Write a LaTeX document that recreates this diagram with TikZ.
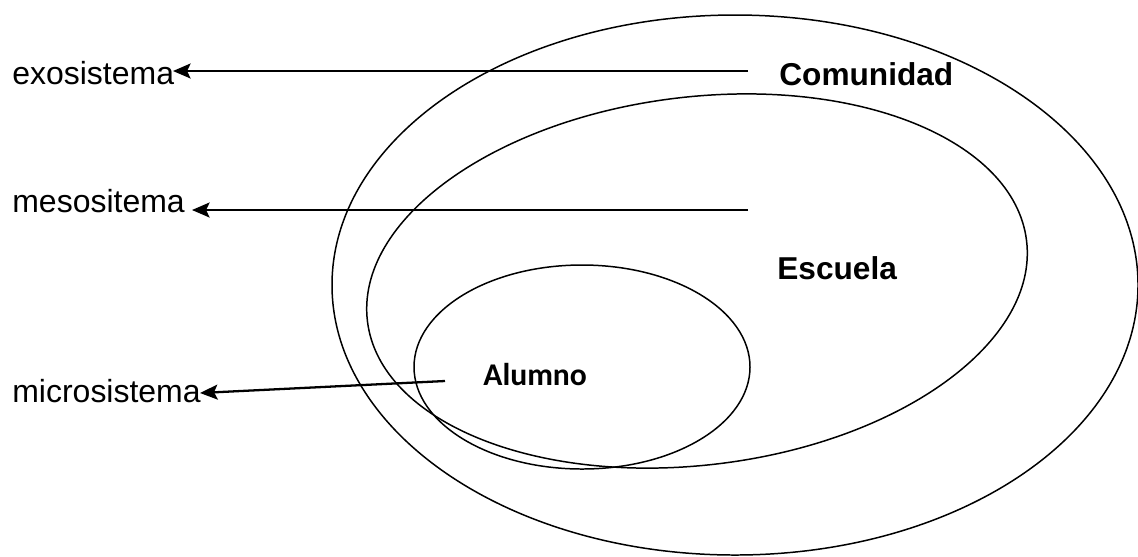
\documentclass[tikz,border=0pt]{standalone}
\usepackage{fontspec}
\setmainfont{Liberation Sans}
\newfontfamily\calibrifont{Carlito}
\usetikzlibrary{arrows.meta}
\begin{document}
\begin{tikzpicture}[x=0.02cm,y=-0.02cm,
  ring/.style={draw=black,line width=0.85pt},
  arr/.style={line width=1.3pt,-{Stealth[length=10pt,width=8.5pt,inset=2pt]}},
  lbl/.style={inner sep=0pt,anchor=base west,font=\fontsize{18.2}{20}\selectfont},
  blbl/.style={inner sep=0pt,anchor=base west,font=\fontsize{18}{20}\selectfont\bfseries},
  clbl/.style={inner sep=0pt,anchor=base west,font=\fontsize{18}{20}\selectfont\calibrifont\bfseries}]
\useasboundingbox (0,0) rectangle (1138,556);
\begin{scope}
  \clip (0,0) rectangle (1138,556);
  \draw[ring] (735,285) ellipse [x radius=403, y radius=270];
\end{scope}
\draw[ring, rotate around={7:(697,281)}] (697,281) ellipse [x radius=332, y radius=184];
\draw[ring] (582,367) ellipse [x radius=168, y radius=102];

\node[lbl] (exo) at (12,84) {exosistema};
\node[lbl] (meso) at (12,212) {mesositema};
\node[lbl] (micro) at (12,402) {microsistema};
\node[blbl] (comunidad) at (779,85) {Comunidad};
\node[blbl] (escuela) at (777,279) {Escuela};
\node[clbl] (alumno) at (483,385) {Alumno};

\coordinate (exoS) at (748,71);
\coordinate (exoT) at (173,71);
\coordinate (mesoS) at (748,210);
\coordinate (mesoT) at (192,210);
\coordinate (microS) at (445,381);
\coordinate (microT) at (200,393);
\draw[arr] (exoS) -- (exoT);
\draw[arr] (mesoS) -- (mesoT);
\draw[arr] (microS) -- (microT);
\end{tikzpicture}
\end{document}
